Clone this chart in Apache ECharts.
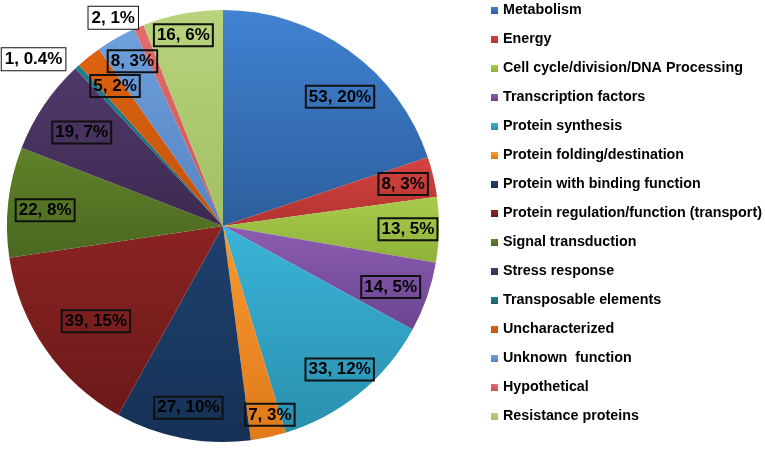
<!DOCTYPE html>
<html>
<head>
<meta charset="utf-8">
<script src="https://cdn.jsdelivr.net/npm/echarts@6/dist/echarts.min.js"></script>
<style>
  html, body { margin: 0; padding: 0; background: #fff; }
  #chart { width: 765px; height: 453px; }
</style>
</head>
<body>
<div id="chart"></div>
<script>
const categories = [
  'Metabolism', 'Energy', 'Cell cycle/division/DNA Processing', 'Transcription factors',
  'Protein synthesis', 'Protein folding/destination', 'Protein with binding function',
  'Protein regulation/function (transport)', 'Signal transduction', 'Stress response',
  'Transposable elements', 'Uncharacterized', 'Unknown  function', 'Hypothetical',
  'Resistance proteins'
]
const counts = [53, 8, 13, 14, 33, 7, 27, 39, 22, 19, 1, 5, 8, 2, 16]
// labels drawn outside the pie (small slices at the top)
const outsideLabels = ['Transposable elements', 'Hypothetical']

// light (top) / dark (bottom) shade of each slice
const lightColors = ['#4182d2', '#d4433f', '#a8ca4c', '#8c5db2', '#3ab4d8', '#f8982f', '#1f416f', '#8b2323', '#60822a', '#50396a', '#20808f', '#dc620e', '#6ea0de', '#e46c6c', '#b8d37c']
const darkColors  = ['#2c5e9d', '#b23331', '#8fb13a', '#6b4490', '#2a8fae', '#e07a1a', '#163155', '#6b1919', '#4b6820', '#3c2a50', '#16606e', '#c2530b', '#5583c0', '#cc5454', '#a2bf62']

// small nudges so labels sit where the original placed them
const labelNudge = {
  'Metabolism': [9, 21],
  'Transcription factors': [-7, 0],
  'Protein folding/destination': [8, 8],
  'Protein regulation/function (transport)': [25, -10],
  'Signal transduction': [6, 5],
  'Stress response': [12, 10],
  'Uncharacterized': [7, 5],
  'Unknown  function': [1, -4],
  'Resistance proteins': [-5, -9],
  'Hypothetical': [8, 0]
}

const total = counts.reduce((a, b) => a + b, 0)
const fmt = p => {
  const pct = p.value / total * 100
  const r = Math.round(pct)
  return p.value + ', ' + (r === 0 ? pct.toFixed(1) : r) + '%'
}

const grad = i => new echarts.graphic.LinearGradient(0, 0, 0, 1, [
  { offset: 0, color: lightColors[i] },
  { offset: 1, color: darkColors[i] }
])

const sliceData = categories.map((name, i) => ({
  name, value: counts[i], itemStyle: { color: grad(i) }
}))
const labelData = categories.map((name, i) => {
  const item = { name, value: counts[i] }
  if (outsideLabels.includes(name)) {
    item.label = { position: 'outside', backgroundColor: '#fff' }
    item.labelLine = { show: false, length: 10, length2: 0 }
  }
  return item
})

const chart = echarts.init(document.getElementById('chart'))
chart.setOption({
  animation: false,
  color: darkColors,
  legend: {
    orient: 'vertical',
    left: 491,
    top: 3,
    padding: 0,
    icon: 'rect',
    itemWidth: 7,
    itemHeight: 7,
    itemGap: 14,
    data: categories,
    textStyle: {
      fontFamily: 'Liberation Sans, Arial, sans-serif',
      fontWeight: 'bold',
      fontSize: 14.3,
      lineHeight: 15,
      color: '#000'
    }
  },
  series: [{
    type: 'pie',
    center: [223, 226],
    radius: 216,
    startAngle: 90,
    silent: true,
    label: { show: false },
    labelLine: { show: false },
    data: sliceData
  }, {
    type: 'pie',
    center: [223, 226],
    radius: [148, 216],
    startAngle: 90,
    silent: true,
    avoidLabelOverlap: false,
    itemStyle: { color: 'transparent' },
    label: {
      show: true,
      position: 'inside',
      rotate: 0,
      overflow: 'none',
      formatter: fmt,
      fontFamily: 'Liberation Sans, Arial, sans-serif',
      fontWeight: 'bold',
      fontSize: 17,
      color: '#000',
      backgroundColor: 'transparent',
      borderColor: '#111',
      borderWidth: 1,
      padding: [3, 3, 2, 3]
    },
    labelLine: { show: false },
    labelLayout: p => {
      const n = labelNudge[categories[p.dataIndex]]
      return n ? { dx: n[0], dy: n[1] } : {}
    },
    data: labelData
  }]
})
</script>
</body>
</html>
